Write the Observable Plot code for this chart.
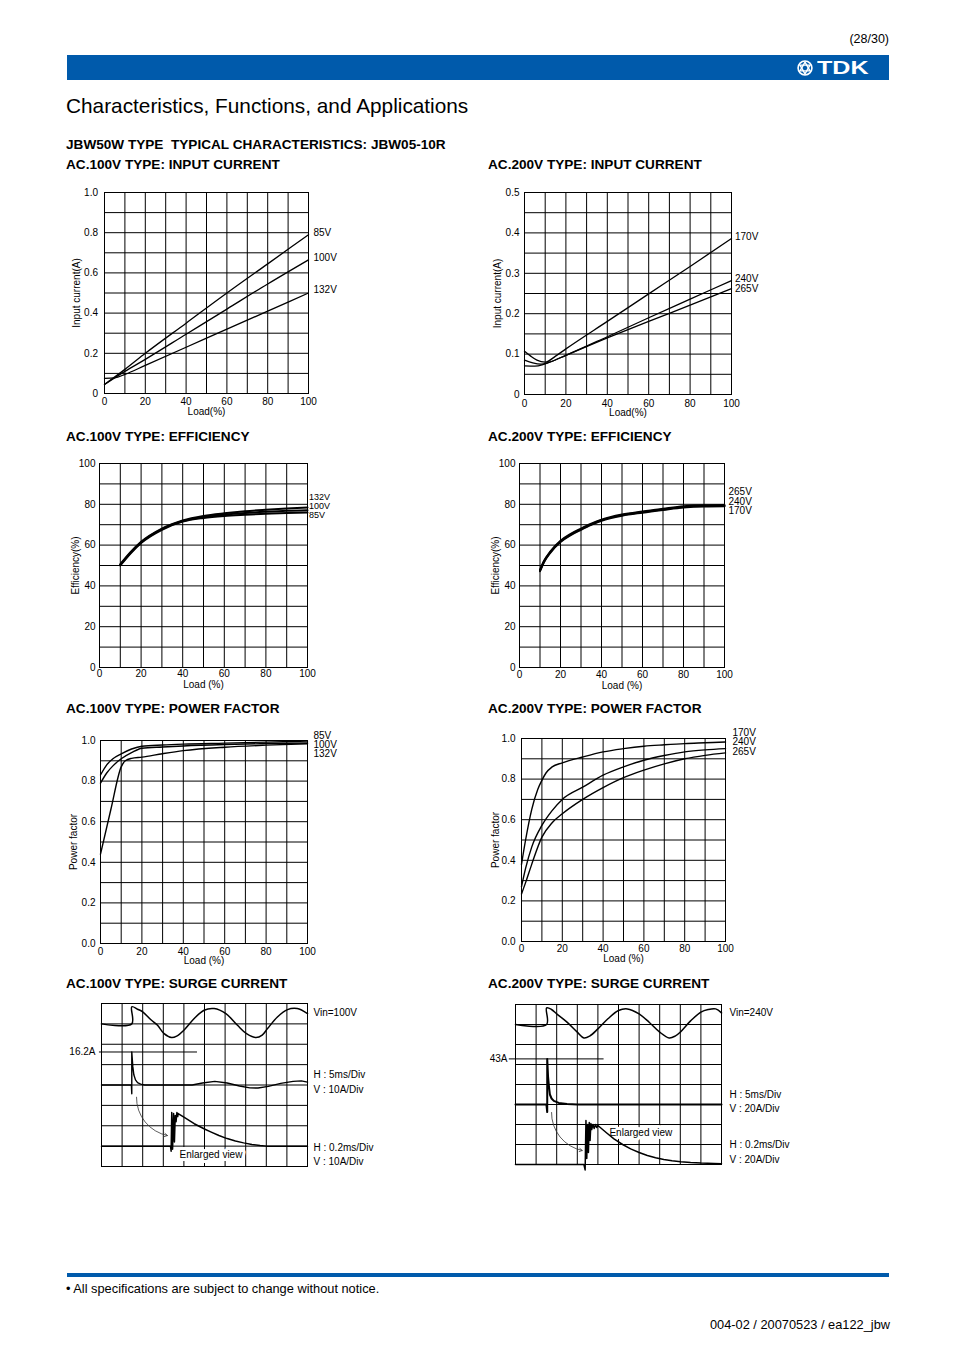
<!DOCTYPE html>
<html><head><meta charset="utf-8">
<script src="https://cdn.jsdelivr.net/npm/d3@7"></script>
<script src="https://cdn.jsdelivr.net/npm/@observablehq/plot@0.6"></script>
<style>
body{margin:0;background:#fff;font-family:"Liberation Sans",Arial,Helvetica,sans-serif;color:#000}
#page{position:relative;width:954px;height:1351px;overflow:hidden;background:#fff}
.t{position:absolute;white-space:pre;line-height:1}
.h{font-weight:bold;font-size:13.6px}
</style></head><body><div id="page">
<div class="t" style="right:65px;top:33px;font-size:12.5px">(28/30)</div>
<div style="position:absolute;left:67px;top:55px;width:822px;height:25px;background:#005aab"></div>
<svg style="position:absolute;left:797px;top:60px" width="16" height="16" viewBox="0 0 18 18">
<circle cx="9" cy="9" r="7.8" fill="none" stroke="#fff" stroke-width="1.8"/>
<polygon points="9,2.5 14.6,12.2 3.4,12.2" fill="none" stroke="#fff" stroke-width="1.6"/>
<polygon points="9,15.5 3.4,5.8 14.6,5.8" fill="none" stroke="#fff" stroke-width="1.6"/>
</svg>
<div class="t" style="left:817px;top:58.4px;font-size:19px;font-weight:bold;color:#fff;transform:scaleX(1.32);transform-origin:left top">TDK</div>
<div class="t" style="left:66px;top:95.5px;font-size:20.8px">Characteristics, Functions, and Applications</div>
<div class="t h" style="left:66px;top:138.2px">JBW50W TYPE  TYPICAL CHARACTERISTICS: JBW05-10R</div>
<div class="t h" style="left:66px;top:158.2px">AC.100V TYPE: INPUT CURRENT</div>
<div class="t h" style="left:488px;top:158.2px">AC.200V TYPE: INPUT CURRENT</div>
<div class="t h" style="left:66px;top:430.2px">AC.100V TYPE: EFFICIENCY</div>
<div class="t h" style="left:488px;top:430.2px">AC.200V TYPE: EFFICIENCY</div>
<div class="t h" style="left:66px;top:702.2px">AC.100V TYPE: POWER FACTOR</div>
<div class="t h" style="left:488px;top:702.2px">AC.200V TYPE: POWER FACTOR</div>
<div class="t h" style="left:66px;top:977.2px">AC.100V TYPE: SURGE CURRENT</div>
<div class="t h" style="left:488px;top:977.2px">AC.200V TYPE: SURGE CURRENT</div>
<div style="position:absolute;left:67px;top:1273px;width:822px;height:4px;background:#005aab"></div>
<div class="t" style="left:66px;top:1282.6px;font-size:12.8px">• All specifications are subject to change without notice.</div>
<div class="t" style="right:64px;top:1318.6px;font-size:12.8px">004-02 / 20070523 / ea122_jbw</div>
</div>
<script>
// ---------- shared axis values ----------
const loadTicks = [0, 20, 40, 60, 80, 100];
const loadGrid = [0, 10, 20, 30, 40, 50, 60, 70, 80, 90, 100];

// ---------- AC100 input current ----------
const ic100Names = ["85V", "100V", "132V"];
const ic100_85V = [[0,0.045],[10,0.12],[20,0.2],[40,0.35],[60,0.5],[80,0.645],[100,0.79]];
const ic100_100V = [[0,0.045],[10,0.11],[20,0.17],[40,0.295],[60,0.42],[80,0.545],[100,0.665]];
const ic100_132V = [[0,0.075],[5,0.078],[10,0.095],[20,0.14],[40,0.23],[60,0.32],[80,0.41],[100,0.5]];
const ic100LabelY = [0.80, 0.675, 0.516];
const ic100Ticks = [0, 0.2, 0.4, 0.6, 0.8, 1.0];
const ic100TickLabels = ["0", "0.2", "0.4", "0.6", "0.8", "1.0"];
const ic100Grid = [0, 0.1, 0.2, 0.3, 0.4, 0.5, 0.6, 0.7, 0.8, 0.9, 1.0];

// ---------- AC200 input current ----------
const ic200Names = ["170V", "240V", "265V"];
const ic200_170V = [[0,0.107],[3,0.095],[6,0.085],[10,0.08],[15,0.095],[20,0.113],[40,0.181],[60,0.249],[80,0.317],[100,0.386]];
const ic200_240V = [[0,0.085],[4,0.078],[8,0.075],[12,0.08],[20,0.097],[40,0.143],[60,0.19],[80,0.236],[100,0.282]];
const ic200_265V = [[0,0.071],[5,0.07],[10,0.076],[20,0.097],[40,0.14],[60,0.181],[80,0.221],[100,0.262]];
const ic200LabelY = [0.39, 0.286, 0.262];
const ic200Ticks = [0, 0.1, 0.2, 0.3, 0.4, 0.5];
const ic200TickLabels = ["0", "0.1", "0.2", "0.3", "0.4", "0.5"];
const ic200Grid = [0, 0.05, 0.1, 0.15, 0.2, 0.25, 0.3, 0.35, 0.4, 0.45, 0.5];

// ---------- AC100 efficiency ----------
const ef100Names = ["132V", "100V", "85V"];
const ef100_132V = [[10,50.6],[15,56.6],[20,61.6],[30,68.1],[40,72.1],[50,74.3],[60,75.6],[70,76.6],[80,77.3],[90,77.9],[100,78.4]];
const ef100_100V = [[10,50.3],[15,56.3],[20,61.3],[30,67.8],[40,71.8],[50,73.8],[60,74.9],[70,75.7],[80,76.3],[90,76.8],[100,77.1]];
const ef100_85V = [[10,50],[15,56],[20,61],[30,67.5],[40,71.5],[50,73.3],[60,74.3],[70,74.9],[80,75.4],[90,75.7],[100,76]];
const ef100LabelY = [83.3, 79, 74.7];
const effTicks = [0, 20, 40, 60, 80, 100];
const effTickLabels = ["0", "20", "40", "60", "80", "100"];
const effGrid = [0, 10, 20, 30, 40, 50, 60, 70, 80, 90, 100];

// ---------- AC200 efficiency ----------
const ef200Names = ["265V", "240V", "170V"];
const ef200_265V = [[10,47.8],[12,52.3],[15,56.8],[20,62.1],[25,65.5],[30,68.1],[35,70.5],[40,72.5],[50,75],[60,76.5],[70,77.8],[80,79],[90,79.5],[100,79.6]];
const ef200_240V = [[10,47.5],[12,52],[15,56.5],[20,61.8],[25,65.2],[30,67.8],[35,70.2],[40,72.2],[50,74.7],[60,76.2],[70,77.5],[80,78.7],[90,79.2],[100,79.3]];
const ef200_170V = [[10,47.2],[12,51.7],[15,56.2],[20,61.5],[25,64.9],[30,67.5],[35,69.9],[40,71.9],[50,74.4],[60,75.9],[70,77.2],[80,78.4],[90,78.9],[100,79]];
const ef200LabelY = [86, 81, 76.6];

// ---------- AC100 power factor ----------
const pf100Names = ["85V", "100V", "132V"];
const pf100_85V = [[0,0.83],[3,0.88],[6,0.91],[10,0.934],[15,0.958],[20,0.972],[30,0.978],[40,0.982],[60,0.987],[80,0.992],[100,0.997]];
const pf100_100V = [[0,0.79],[3,0.84],[6,0.875],[10,0.91],[15,0.94],[20,0.962],[30,0.968],[40,0.973],[60,0.98],[80,0.985],[100,0.988]];
const pf100_132V = [[0,0.44],[5,0.66],[10,0.87],[12,0.9],[15,0.912],[20,0.918],[30,0.935],[40,0.95],[60,0.967],[80,0.977],[100,0.984]];
const pf100LabelY = [1.025, 0.98, 0.936];
const pfTicks = [0, 0.2, 0.4, 0.6, 0.8, 1.0];
const pfTickLabels = ["0.0", "0.2", "0.4", "0.6", "0.8", "1.0"];
const pfGrid = [0, 0.1, 0.2, 0.3, 0.4, 0.5, 0.6, 0.7, 0.8, 0.9, 1.0];

// ---------- AC200 power factor ----------
const pf200Names = ["170V", "240V", "265V"];
const pf200_170V = [[0,0.38],[2,0.5],[5,0.65],[8,0.75],[10,0.794],[12,0.83],[15,0.86],[20,0.88],[30,0.909],[40,0.934],[50,0.95],[60,0.962],[70,0.969],[80,0.975],[90,0.979],[100,0.983]];
const pf200_240V = [[0,0.27],[2,0.36],[5,0.465],[10,0.572],[15,0.645],[20,0.7],[30,0.76],[40,0.819],[50,0.86],[60,0.893],[70,0.916],[80,0.934],[90,0.944],[100,0.95]];
const pf200_265V = [[0,0.234],[2,0.29],[5,0.38],[10,0.514],[15,0.585],[20,0.629],[30,0.7],[40,0.758],[50,0.807],[60,0.844],[70,0.875],[80,0.9],[90,0.917],[100,0.929]];
const pf200LabelY = [1.026, 0.982, 0.933];

// ---------- surge current, in divisions ----------
const divX = [0,1,2,3,4,5,6,7,8,9,10];
const divY = [0,1,2,3,4,5,6,7,8];
const sg100Top = [[0,7],[1.47,7],[1.47,7.84],[1.75,7.72],[2.0,7.59],[2.4,7.2],[2.72,6.93],[3.04,6.52],[3.4,6.33],[3.65,6.4],[4.0,6.69],[4.5,7.26],[4.98,7.67],[5.47,7.75],[6.04,7.5],[6.6,6.93],[7.04,6.52],[7.5,6.33],[7.8,6.45],[8.06,6.77],[8.54,7.34],[9.03,7.7],[9.5,7.75],[10,7.5]];
const sg100Mid = [[0,4],[1.45,4],[1.47,3.57],[1.47,5.62],[1.52,4.9],[1.57,4.5],[1.65,4.25],[1.75,4.12],[1.9,4.04],[2.1,4.0],[4.4,4.0],[4.9,4.1],[5.5,4.18],[6.1,4.1],[6.7,3.95],[7.2,3.86],[7.6,3.85],[8.1,3.93],[8.7,4.08],[9.3,4.18],[9.7,4.2],[10,4.14]];
const sg100Bot = [[0,1.0],[3.35,1.0],[3.38,0.75],[3.41,2.65],[3.45,0.85],[3.5,2.6],[3.54,1.2],[3.58,2.5],[3.62,2.2],[3.66,2.65],[3.7,2.45],[3.72,2.6],[4.0,2.42],[4.5,2.1],[5.0,1.84],[5.3,1.7],[5.7,1.52],[6.1,1.37],[6.5,1.25],[6.9,1.16],[7.3,1.08],[7.7,1.03],[8.0,1.0],[10,1.0]];
const sg100Peak = [{y: 5.62, x1: -0.1, x2: 4.66, t: "16.2A"}];
const sg100Arrow = [{x1: 1.7, y1: 3.4, x2: 3.2, y2: 1.52}];
const sg100Notes = [
  {x: 10, y: 7.56, t: "Vin=100V"},
  {x: 10, y: 4.52, t: "H : 5ms/Div"},
  {x: 10, y: 3.78, t: "V : 10A/Div"},
  {x: 10, y: 0.93, t: "H : 0.2ms/Div"},
  {x: 10, y: 0.245, t: "V : 10A/Div"}
];
const sg100Enlarged = [{x: 3.79, y: 0.59, t: "Enlarged view"}];

const sg200Top = [[0,7],[1.51,7],[1.51,7.83],[1.75,7.75],[2.0,7.53],[2.5,7.12],[3.0,6.62],[3.32,6.33],[3.6,6.42],[4.0,6.78],[4.5,7.3],[5.0,7.7],[5.43,7.78],[6.0,7.53],[6.5,7.1],[7.0,6.62],[7.46,6.33],[7.75,6.42],[8.0,6.62],[8.5,7.18],[9.0,7.62],[9.35,7.75],[9.72,7.78],[10,7.58]];
const sg200Mid = [[0,3],[1.5,3],[1.54,2.62],[1.54,5.28],[1.58,4.4],[1.62,3.95],[1.67,3.5],[1.75,3.3],[1.86,3.18],[2.1,3.08],[2.5,3.03],[3.0,3.0],[10,3.0]];
const sg200Bot = [[0,0],[3.32,0],[3.38,-0.27],[3.42,2.2],[3.46,0.3],[3.5,2.0],[3.54,0.6],[3.58,2.1],[3.62,1.2],[3.66,2.05],[3.7,1.75],[3.76,2.0],[3.82,1.8],[3.88,2.0],[3.94,1.85],[4.0,1.95],[4.4,1.6],[4.78,1.28],[5.2,1.0],[5.59,0.78],[6.0,0.6],[6.4,0.45],[6.8,0.34],[7.2,0.25],[7.6,0.19],[8.02,0.14],[8.5,0.1],[9.0,0.07],[9.64,0.05],[10,0.04]];
const sg200Peak = [{y: 5.28, x1: -0.3, x2: 4.3, t: "43A"}];
const sg200Arrow = [{x1: 1.75, y1: 2.6, x2: 3.24, y2: 0.7}];
const sg200Notes = [
  {x: 10, y: 7.6, t: "Vin=240V"},
  {x: 10, y: 3.5, t: "H : 5ms/Div"},
  {x: 10, y: 2.8, t: "V : 20A/Div"},
  {x: 10, y: 1.0, t: "H : 0.2ms/Div"},
  {x: 10, y: 0.25, t: "V : 20A/Div"}
];
const sg200Enlarged = [{x: 4.56, y: 1.6, t: "Enlarged view"}];

// ---------- rendering ----------
const FONT = "'Liberation Sans', Arial, Helvetica, sans-serif";
const STYLE = {fontFamily: FONT, fontSize: "10px", background: "transparent", overflow: "visible"};
const page = document.getElementById("page");
function place(svg, left, top) {
  svg.style.position = "absolute";
  svg.style.left = left + "px";
  svg.style.top = top + "px";
  svg.style.maxWidth = "none";
  page.appendChild(svg);
}

function curveChart(o) {
  const rows = o.series.flatMap((d, i) => d.map(([x, y]) => ({x, y, s: o.names[i]})));
  const lab = o.names.map((n, i) => ({t: n, y: o.labelY[i]}));
  const svg = Plot.plot({
    width: o.w, height: o.h,
    marginLeft: o.m[0], marginTop: o.m[1], marginRight: o.m[2], marginBottom: o.m[3],
    x: {domain: [0, 100]}, y: {domain: o.yDomain},
    style: STYLE,
    marks: [
      Plot.ruleX(loadGrid, {stroke: "#000", strokeWidth: 1}),
      Plot.ruleY(o.yGrid, {stroke: "#000", strokeWidth: 1}),
      Plot.frame({stroke: "#000"}),
      Plot.axisX({ticks: loadTicks, tickSize: 0, tickPadding: o.xPad, label: null, tickFormat: d => String(d)}),
      Plot.axisY({ticks: o.yTicks, tickSize: 0, tickPadding: o.yPad, label: null, tickFormat: d => o.yLabels[o.yTicks.indexOf(d)]}),
      Plot.line(rows, {x: "x", y: "y", z: "s", stroke: "#000", strokeWidth: o.sw, curve: o.curve}),
      Plot.text(lab, {x: () => 100, y: "y", text: "t", textAnchor: "start", dx: o.ldx, fontSize: o.lfs || 10}),
      Plot.text([o.xTitle], {frameAnchor: "bottom", dy: o.xtdy, text: d => d, textAnchor: "middle", lineAnchor: "middle"}),
      Plot.text([o.yTitle], {frameAnchor: "left", dx: o.ytdx, rotate: -90, text: d => d, textAnchor: "middle", lineAnchor: "middle"})
    ]
  });
  place(svg, o.left, o.top);
}

curveChart({left: 60, top: 180, w: 300, h: 245, m: [44, 12, 52, 32],
  yDomain: [0, 1], yGrid: ic100Grid, yTicks: ic100Ticks, yLabels: ic100TickLabels,
  names: ic100Names, series: [ic100_85V, ic100_100V, ic100_132V], labelY: ic100LabelY,
  sw: 1.3, curve: "monotone-x", xPad: 4.5, yPad: 6.5, ldx: 5, xtdy: 18, ytdx: -28,
  xTitle: "Load(%)", yTitle: "Input current(A)"});

curveChart({left: 480, top: 180, w: 300, h: 245, m: [44, 12, 49, 31],
  yDomain: [0, 0.5], yGrid: ic200Grid, yTicks: ic200Ticks, yLabels: ic200TickLabels,
  names: ic200Names, series: [ic200_170V, ic200_240V, ic200_265V], labelY: ic200LabelY,
  sw: 1.3, curve: "monotone-x", xPad: 5.8, yPad: 5, ldx: 3.5, xtdy: 18.5, ytdx: -27,
  xTitle: "Load(%)", yTitle: "Input current(A)"});

curveChart({left: 60, top: 450, w: 300, h: 245, m: [39, 13, 53, 28],
  yDomain: [0, 100], yGrid: effGrid, yTicks: effTicks, yLabels: effTickLabels,
  names: ef100Names, series: [ef100_132V, ef100_100V, ef100_85V], labelY: ef100LabelY,
  sw: 2, curve: "monotone-x", xPad: 2.8, yPad: 4, ldx: 1.5, lfs: 9, xtdy: 17.3, ytdx: -24,
  xTitle: "Load (%)", yTitle: "Efficiency(%)"});

curveChart({left: 480, top: 450, w: 300, h: 245, m: [39, 13, 56, 28],
  yDomain: [0, 100], yGrid: effGrid, yTicks: effTicks, yLabels: effTickLabels,
  names: ef200Names, series: [ef200_265V, ef200_240V, ef200_170V], labelY: ef200LabelY,
  sw: 2, curve: "monotone-x", xPad: 3.8, yPad: 4, ldx: 4, xtdy: 18, ytdx: -24,
  xTitle: "Load (%)", yTitle: "Efficiency(%)"});

curveChart({left: 60, top: 725, w: 300, h: 245, m: [40, 15, 53, 27],
  yDomain: [0, 1], yGrid: pfGrid, yTicks: pfTicks, yLabels: pfTickLabels,
  names: pf100Names, series: [pf100_85V, pf100_100V, pf100_132V], labelY: pf100LabelY,
  sw: 1.4, curve: "monotone-x", xPad: 4.2, yPad: 5, ldx: 6, xtdy: 17, ytdx: -27,
  xTitle: "Load (%)", yTitle: "Power factor"});

curveChart({left: 480, top: 725, w: 300, h: 245, m: [41, 13, 55, 29],
  yDomain: [0, 1], yGrid: pfGrid, yTicks: pfTicks, yLabels: pfTickLabels,
  names: pf200Names, series: [pf200_170V, pf200_240V, pf200_265V], labelY: pf200LabelY,
  sw: 1.4, curve: "monotone-x", xPad: 3.8, yPad: 6, ldx: 7, xtdy: 17.5, ytdx: -26,
  xTitle: "Load (%)", yTitle: "Power factor"});

function surgeChart(o) {
  const toRows = d => d.map(([x, y]) => ({x, y}));
  const svg = Plot.plot({
    width: o.w, height: o.h,
    marginLeft: o.m[0], marginTop: o.m[1], marginRight: o.m[2], marginBottom: o.m[3],
    x: {domain: [0, 10], axis: null}, y: {domain: [0, 8], axis: null},
    style: STYLE,
    marks: [
      Plot.ruleX(divX, {stroke: "#000", strokeWidth: 1}),
      Plot.ruleY(divY, {stroke: "#000", strokeWidth: 1}),
      Plot.frame({stroke: "#000"}),
      Plot.text(o.enl, {x: "x", y: "y", text: "t", textAnchor: "start", stroke: "white", strokeWidth: 6, fill: "#000"}),
      Plot.ruleY(o.peak, {y: "y", x1: "x1", x2: "x2", stroke: "#000", strokeWidth: 1}),
      Plot.text(o.peak, {x: () => 0, y: "y", text: "t", textAnchor: "end", dx: o.pdx}),
      Plot.line(toRows(o.topTrace), {x: "x", y: "y", stroke: "#000", strokeWidth: 1.5, curve: "catmull-rom"}),
      Plot.line(toRows(o.midTrace), {x: "x", y: "y", stroke: "#000", strokeWidth: o.midW, curve: "linear"}),
      Plot.line(toRows(o.botTrace), {x: "x", y: "y", stroke: "#000", strokeWidth: 1.5, curve: "linear"}),
      Plot.arrow(o.arrow, {x1: "x1", y1: "y1", x2: "x2", y2: "y2", bend: -40, stroke: "#333", strokeWidth: 0.8, headLength: 6}),
      Plot.text(o.notes, {x: "x", y: "y", text: "t", textAnchor: "start", dx: o.ndx})
    ]
  });
  place(svg, o.left, o.top);
}

surgeChart({left: 60, top: 995, w: 320, h: 180, m: [41, 8, 73, 9],
  topTrace: sg100Top, midTrace: sg100Mid, botTrace: sg100Bot, midW: 1.4, peak: sg100Peak, pdx: -6,
  arrow: sg100Arrow, enl: sg100Enlarged, notes: sg100Notes, ndx: 6});

surgeChart({left: 480, top: 995, w: 320, h: 180, m: [35, 9, 79, 11],
  topTrace: sg200Top, midTrace: sg200Mid, botTrace: sg200Bot, midW: 2, peak: sg200Peak, pdx: -8,
  arrow: sg200Arrow, enl: sg200Enlarged, notes: sg200Notes, ndx: 8});
</script>
</body></html>
